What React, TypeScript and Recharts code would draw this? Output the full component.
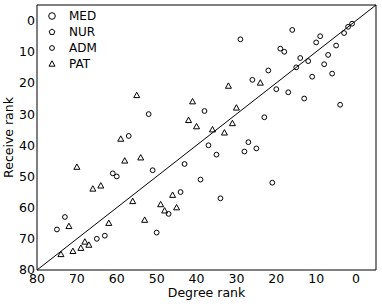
import { Legend, ReferenceLine, Scatter, ScatterChart, XAxis, YAxis } from 'recharts'

const degreeTicks = [80, 70, 60, 50, 40, 30, 20, 10, 0]
const receiveTicks = [0, 10, 20, 30, 40, 50, 60, 70, 80]
const rankDomain = [-5, 80]
const groups = ['MED', 'NUR', 'ADM', 'PAT']

// [degree rank, receive rank]
const medPoints: number[][] = []
const nurPoints: number[][] = []
const admPoints = [
  [16, 3], [9, 5], [10, 7], [19, 9], [18, 10], [5, 8], [3, 4], [2, 2], [1, 1],
  [7, 11], [14, 12], [12, 13], [8, 14], [15, 15], [22, 16], [6, 17], [11, 18],
  [20, 22], [17, 23], [13, 25], [4, 27], [29, 6], [26, 19], [38, 29], [23, 31],
  [52, 30], [37, 40], [27, 39], [25, 41], [28, 42], [35, 43], [43, 46], [51, 48],
  [39, 51], [21, 52], [44, 55], [34, 57], [57, 37], [61, 49], [60, 50], [73, 63],
  [75, 67], [50, 68], [65, 70], [63, 69], [47, 62],
]
const patPoints = [
  [24, 20], [32, 21], [41, 26], [30, 28], [42, 32], [40, 34], [31, 33], [36, 35],
  [33, 36], [55, 24], [59, 38], [58, 45], [54, 44], [70, 47], [66, 54], [64, 53],
  [56, 58], [72, 66], [62, 65], [53, 64], [74, 75], [71, 74], [69, 73], [68, 71],
  [67, 72], [49, 59], [48, 61], [45, 60], [46, 56],
]
const diagonal = [
  { x: 80, y: 80 },
  { x: -5, y: -5 },
]

const toXY = (pts: number[][]) => pts.map(([x, y]) => ({ x, y }))

const font = 'DejaVu Sans, sans-serif'
const ink = '#000'

function Marker({ kind, cx, cy }: { kind: string; cx: number; cy: number }) {
  if (kind === 'PAT') {
    return (
      <polygon
        points={`${cx},${cy - 3.2} ${cx - 3},${cy + 2.2} ${cx + 3},${cy + 2.2}`}
        fill="none"
        stroke={ink}
        strokeWidth={1}
      />
    )
  }
  if (kind === 'NUR') {
    const pts = [0, 1, 2, 3, 4]
      .map((i) => {
        const a = -Math.PI / 2 + (i * 2 * Math.PI) / 5
        return `${cx + 3 * Math.cos(a)},${cy + 3 * Math.sin(a)}`
      })
      .join(' ')
    return <polygon points={pts} fill="none" stroke={ink} strokeWidth={1} />
  }
  const r = kind === 'MED' ? 3.3 : 2.4
  return <circle cx={cx} cy={cy} r={r} fill="none" stroke={ink} strokeWidth={1} />
}

const shapeFor = (kind: string) => (props: any) => (
  <Marker kind={kind} cx={props.cx} cy={props.cy} />
)

function LegendBox({ payload }: any) {
  return (
    <div style={{ fontFamily: font, fontSize: 12, color: ink }}>
      {(payload || []).map((item: any) => (
        <div key={item.value} style={{ display: 'flex', alignItems: 'center', height: 16 }}>
          <svg width={16} height={16}>
            <Marker kind={item.value} cx={8} cy={8} />
          </svg>
          <span style={{ marginLeft: 9 }}>{item.value}</span>
        </div>
      ))}
    </div>
  )
}

const yLabel = ({ viewBox }: any) => {
  const x = viewBox.x + 13
  const y = viewBox.y + viewBox.height / 2
  return (
    <text
      x={x}
      y={y}
      transform={`rotate(-90 ${x} ${y})`}
      textAnchor="middle"
      fontFamily={font}
      fontSize={12.5}
      fill={ink}
    >
      Receive rank
    </text>
  )
}

const xLabel = ({ viewBox }: any) => (
  <text
    x={viewBox.x + viewBox.width / 2}
    y={viewBox.y + 27}
    textAnchor="middle"
    fontFamily={font}
    fontSize={12.5}
    fill={ink}
  >
    Degree rank
  </text>
)

const tickStyle = { fontFamily: font, fontSize: 12.5, fill: ink }

export default function App() {
  return (
    <div style={{ position: 'absolute', left: 0, top: 0, background: '#fff' }}>
      <ScatterChart width={382} height={306} margin={{ top: 5, right: 6, bottom: 0, left: 0 }}>
        <XAxis
          xAxisId="b"
          type="number"
          dataKey="x"
          domain={rankDomain}
          allowDataOverflow
          reversed
          ticks={degreeTicks}
          interval={0}
          height={36}
          tickLine={false}
          tickSize={0}
          tickMargin={4}
          tick={tickStyle}
          axisLine={{ stroke: ink }}
          label={xLabel}
        />
        <XAxis
          xAxisId="bi"
          type="number"
          domain={rankDomain}
          allowDataOverflow
          reversed
          ticks={degreeTicks}
          interval={0}
          mirror
          tick={false}
          tickSize={4}
          tickLine={{ stroke: ink }}
          axisLine={false}
        />
        <XAxis
          xAxisId="t"
          orientation="top"
          type="number"
          domain={rankDomain}
          allowDataOverflow
          reversed
          ticks={degreeTicks}
          interval={0}
          mirror
          tick={false}
          tickSize={4}
          tickLine={{ stroke: ink }}
          axisLine={{ stroke: ink }}
        />
        <YAxis
          yAxisId="l"
          type="number"
          dataKey="y"
          domain={rankDomain}
          allowDataOverflow
          reversed
          ticks={receiveTicks}
          interval={0}
          width={37}
          tickLine={false}
          tickSize={0}
          tickMargin={2}
          tick={tickStyle}
          axisLine={{ stroke: ink }}
          label={yLabel}
        />
        <YAxis
          yAxisId="li"
          type="number"
          domain={rankDomain}
          allowDataOverflow
          reversed
          ticks={receiveTicks}
          interval={0}
          mirror
          tick={false}
          tickSize={4}
          tickLine={{ stroke: ink }}
          axisLine={false}
        />
        <YAxis
          yAxisId="r"
          orientation="right"
          type="number"
          domain={rankDomain}
          allowDataOverflow
          reversed
          ticks={receiveTicks}
          interval={0}
          mirror
          tick={false}
          tickSize={4}
          tickLine={{ stroke: ink }}
          axisLine={{ stroke: ink }}
        />
        <ReferenceLine
          xAxisId="b"
          yAxisId="l"
          segment={diagonal}
          stroke={ink}
          strokeWidth={1}
          ifOverflow="visible"
        />
        <Scatter name="MED" xAxisId="b" yAxisId="l" data={toXY(medPoints)} shape={shapeFor('MED')} isAnimationActive={false} />
        <Scatter name="NUR" xAxisId="b" yAxisId="l" data={toXY(nurPoints)} shape={shapeFor('NUR')} isAnimationActive={false} />
        <Scatter name="ADM" xAxisId="b" yAxisId="l" data={toXY(admPoints)} shape={shapeFor('ADM')} isAnimationActive={false} />
        <Scatter name="PAT" xAxisId="b" yAxisId="l" data={toXY(patPoints)} shape={shapeFor('PAT')} isAnimationActive={false} />
        <Legend
          layout="vertical"
          align="center"
          verticalAlign="middle"
          itemSorter={(item: any) => groups.indexOf(item.value)}
          content={<LegendBox />}
          wrapperStyle={{ left: 44, top: 8, width: 'auto', height: 'auto' }}
        />
      </ScatterChart>
    </div>
  )
}
